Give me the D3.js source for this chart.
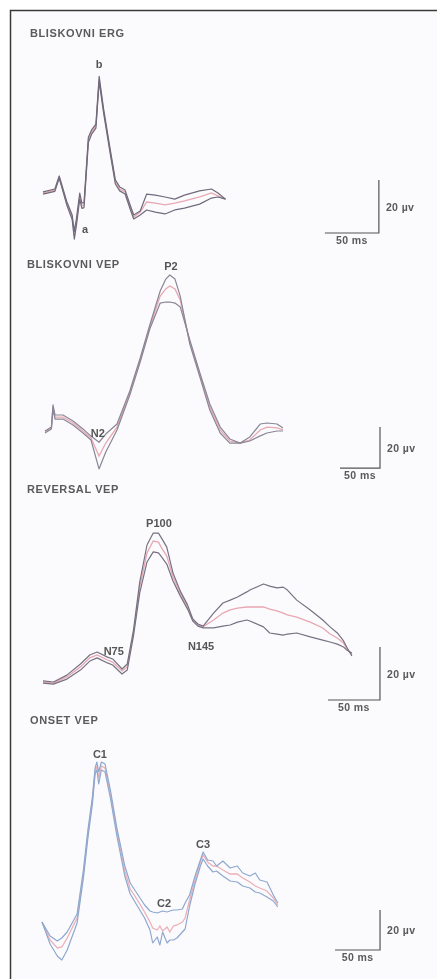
<!DOCTYPE html>
<html>
<head>
<meta charset="utf-8">
<script src="https://cdn.jsdelivr.net/npm/d3@7"></script>
<style>
  html, body { margin: 0; padding: 0; background: #fff; }
  svg { display: block; }
  text { font-family: "Liberation Sans", Arial, sans-serif; fill: #505050; }
</style>
</head>
<body>
<div id="chart"></div>
<script>
// time in ms, amplitude in µV (mean, mean+SD, mean-SD)
const ergTime  = [0,11,15,18,22,27,29,31,34,36,38,42,45,49,52,56,62,67,71,76,81,84,90,96,104,113,122,131,145,156,162,169];
const ergMean  = [0,1.1,6.0,1.9,-3.8,-9.1,-16.2,-10.9,-1.1,-4.9,-4.5,20.0,23.0,25.3,43.0,31.3,16.2,4.2,1.5,0.4,-5.7,-9.1,-7.2,-3.4,-3.8,-4.5,-3.8,-3.0,-1.5,0,-1.1,-2.3];
const ergUpper = [0.4,1.5,6.4,2.3,-3.2,-8.3,-14.5,-9.6,0,-3.8,-3.6,21,23.8,26,44,32,17,5,2.3,1.1,-4.9,-8.3,-6.8,-0.4,-0.8,-1.5,-2.3,-0.8,0.8,1.5,0,-2.3];
const ergLower = [-0.4,0.6,5.5,1.3,-4.5,-10,-17.4,-12,-2.3,-5.8,-5.5,19,22.2,24.5,42,30.5,15.4,3.4,0.8,-0.4,-6.4,-9.8,-8.3,-6.4,-7.2,-7.9,-6.4,-5.7,-4.2,-1.9,-1.5,-2.3];
const ergPeaks = ['a', 'b'];

const flashTime  = [0,8,10,12.5,22.5,35,47.5,57.5,67.5,76,90,106,119,131,144,151,156,162.5,169,181,194,206,219,231,244,256,269,277.5,290,297.5];
const flashMean  = [0,2.0,12.2,7.3,7.3,4.4,0.5,-2.9,-11.7,-5.4,2.4,19.0,35.1,51.2,66.3,69.8,71.2,69.8,64.4,43.9,27.3,12.2,1.0,-4.4,-5.4,-3.9,1.0,2.4,2.0,1.0];
const flashUpper = [0.5,2.4,13.2,8.3,8.3,5.4,1.5,-2.0,-5.0,-1.0,3.9,20.0,36.1,52.2,68.8,74.6,76.6,74.6,66.3,42.9,26.3,10.7,-0.5,-5.4,-5.4,-2.4,3.9,4.4,3.9,2.0];
const flashLower = [-0.5,1.5,11.2,6.3,6.3,3.4,-0.5,-3.9,-18.0,-9.8,1.0,18.0,34.1,50.2,62.9,63.4,63.4,62.9,61.0,44.9,28.3,13.7,2.4,-3.4,-5.4,-4.4,-1.9,-0.5,0.5,0.5];
const flashPeaks = ['N2', 'P2'];

const revTime  = [0,10,23,36,45,52,62,67,76,81,87,93,100,106,111,114,119,125,132,139,144,149,154,164,173,180,187,196,199,212,218,225,231,235,244,257,269,276,283,289,292,297];
const revMean  = [0,-0.4,1.9,5.7,9.1,10.2,8.3,7.5,4.2,5.7,18.5,35.8,48.7,53.2,52.8,50.6,47.5,39.6,33.6,28.3,23.4,21.5,20.8,23.4,26.0,27.2,27.9,28.3,28.3,28.3,27.5,26.8,26.0,25.3,24.5,22.6,20.4,18.1,16.6,14.7,12.8,10.2];
const revUpper = [0.4,0,2.6,6.8,10.2,11.3,9.4,8.7,4.9,6.8,19.6,37.7,51.7,56.2,56.2,54.3,50.9,41.1,34.3,29.1,23.8,21.9,21.1,26.0,29.8,30.9,32.1,34.0,34.7,37.0,36.2,35.5,35.8,34.7,30.9,27.2,23.4,20.8,18.5,15.5,13.2,9.8];
const revLower = [-0.4,-0.8,1.1,4.5,7.9,9.1,7.2,6.4,3.0,4.5,17.4,33.6,45.3,49.1,48.7,47.2,44.5,38.1,32.5,27.5,23.0,21.1,20.4,20.4,21.1,21.5,22.6,23.4,23.0,20.8,18.5,18.1,17.7,18.1,18.5,17.0,15.8,15.1,14.3,13.2,12.1,10.9];
const revPeaks = ['N75', 'P100', 'N145'];

const onsTime  = [0,9,17,22,28,39,46,51,56,59,61,63,66,70,76,83,92,98,106,114,120,123,128,131,134,139,142,146,150,156,159,164,170,176,179,184,190,194,201,209,217,223,231,237,242,250,257,262];
const onsMean  = [0,-9,-13,-12.5,-8,2,24,44,61,75.5,78,72,78,77,64,45.5,25.5,16.5,11,5,0,-3,-4,-2,-4.5,-2.5,-5,-2,-1.5,0,2,11,21,30,33.5,30,28,28,26,24,24,22,20,18,17,15.5,12,8.5];
const onsUpper = [0,-7,-9.5,-8,-5,4,26,46,62.5,77,80,75,80,79,66,47.5,28,19.5,14,8.5,5.5,5,4.5,5,5.5,5,5.5,6,6,6.5,9.5,13.5,23,31,35,31,30.5,28,30.5,27,28,24.5,23,24.5,21,20,13.5,9.5];
const onsLower = [0,-11,-17,-19,-14,-0.5,22,42,59,74,76,69,76,75,62,43.5,23,14,8,2,-4,-10.5,-7.5,-11.5,-5,-10.5,-9,-9,-8,-5,-3.5,8,19,28,31.5,28,25,25.5,23,20.5,20,18,17,15,14.5,12.5,10.5,7.5];
const onsPeaks = ['C1', 'C2', 'C3'];

const barMs = 50, barUv = 20;

const W = 437, H = 979;

// layout: pixel origin of each panel, pixel length of the 50 ms / 20 µV bars
const panels = [
  { title: 'BLISKOVNI ERG', tx: 30, ty: 37, time: ergTime, mean: ergMean, upper: ergUpper, lower: ergLower,
    x0: 43, y0: 193, msPx: 54, uvPx: 53, bar: [311, -15.1],
    peaks: ergPeaks, peakPos: [[38.9, -15.1], [51.9, 47.2]], edge: '#6f6b7c', mid: '#e8a7b1' },
  { title: 'BLISKOVNI VEP', tx: 27, ty: 268, time: flashTime, mean: flashMean, upper: flashUpper, lower: flashLower,
    x0: 45, y0: 432, msPx: 40, uvPx: 41, bar: [418.75, -17.6],
    peaks: flashPeaks, peakPos: [[66, -2.4], [157.5, 79]], edge: '#8a8696', mid: '#e8a7b1' },
  { title: 'REVERSAL VEP', tx: 27, ty: 493, time: revTime, mean: revMean, upper: revUpper, lower: revLower,
    x0: 43, y0: 682, msPx: 52, uvPx: 53, bar: [324, -6.8],
    peaks: revPeaks, peakPos: [[68, 10.2], [111.5, 58.5], [152, 12]], edge: '#767283', mid: '#e8a7b1' },
  { title: 'ONSET VEP', tx: 30, ty: 724, time: onsTime, mean: onsMean, upper: onsUpper, lower: onsLower,
    x0: 42, y0: 922, msPx: 45, uvPx: 40, bar: [375.6, -14],
    peaks: onsPeaks, peakPos: [[64.4, 82], [135.6, 7.5], [178.9, 37]], edge: '#8ea8cf', mid: '#ecb0b9' }
];

const svg = d3.select('#chart').append('svg')
  .attr('width', W)
  .attr('height', H);

// slight softening, the source is a scan
svg.append('defs').append('filter')
  .attr('id', 'soft')
  .append('feGaussianBlur')
  .attr('stdDeviation', 0.35);

svg.append('rect').attr('width', W).attr('height', H).attr('fill', '#fff');
// frame
svg.append('rect')
  .attr('x', 10.5).attr('y', 10.5)
  .attr('width', W).attr('height', H)
  .attr('fill', '#fbfbfd')
  .attr('stroke', '#3a3a3a')
  .attr('stroke-width', 1.5);

const root = svg.append('g').attr('filter', 'url(#soft)');

panels.forEach(p => {
  const x = d3.scaleLinear().domain([0, barMs]).range([p.x0, p.x0 + p.msPx]);
  const y = d3.scaleLinear().domain([0, barUv]).range([p.y0, p.y0 - p.uvPx]);
  const g = root.append('g');

  g.append('text')
    .attr('x', p.tx).attr('y', p.ty)
    .attr('font-size', 11)
    .attr('font-weight', 'bold')
    .attr('letter-spacing', 0.6)
    .style('fill', '#5a5a5a')
    .text(p.title);

  const line = d3.line()
    .x((d, i) => x(p.time[i]))
    .y(d => y(d));

  // mean first, SD envelope on top
  g.append('path').datum(p.mean)
    .attr('d', line).attr('fill', 'none')
    .attr('stroke', p.mid).attr('stroke-width', 1.3);
  [p.upper, p.lower].forEach(s => {
    g.append('path').datum(s)
      .attr('d', line).attr('fill', 'none')
      .attr('stroke', p.edge).attr('stroke-width', 1.2)
      .attr('stroke-linejoin', 'round');
  });

  // peak labels
  p.peaks.forEach((name, i) => {
    g.append('text')
      .attr('x', x(p.peakPos[i][0]))
      .attr('y', y(p.peakPos[i][1]))
      .attr('text-anchor', 'middle')
      .attr('font-size', 11)
      .attr('font-weight', 'bold')
      .style('fill', '#555')
      .text(name);
  });

  // scale bar
  const bx = x(p.bar[0]), by = y(p.bar[1]);
  const bar = d3.path();
  bar.moveTo(x(p.bar[0] - barMs), by);
  bar.lineTo(bx, by);
  bar.lineTo(bx, y(p.bar[1] + barUv));
  g.append('path')
    .attr('d', bar.toString())
    .attr('fill', 'none')
    .attr('stroke', '#555')
    .attr('stroke-width', 1.2);

  g.append('text')
    .attr('x', bx + 7)
    .attr('y', y(p.bar[1] + barUv / 2) + 4)
    .attr('font-size', 10.5)
    .attr('font-weight', 'bold')
    .attr('letter-spacing', 0.4)
    .style('fill', '#5a5a5a')
    .text('20 µv');
  g.append('text')
    .attr('x', x(p.bar[0] - barMs / 2))
    .attr('y', by + 11)
    .attr('text-anchor', 'middle')
    .attr('font-size', 10.5)
    .attr('font-weight', 'bold')
    .attr('letter-spacing', 0.4)
    .style('fill', '#5a5a5a')
    .text('50 ms');
});
</script>
</body>
</html>
